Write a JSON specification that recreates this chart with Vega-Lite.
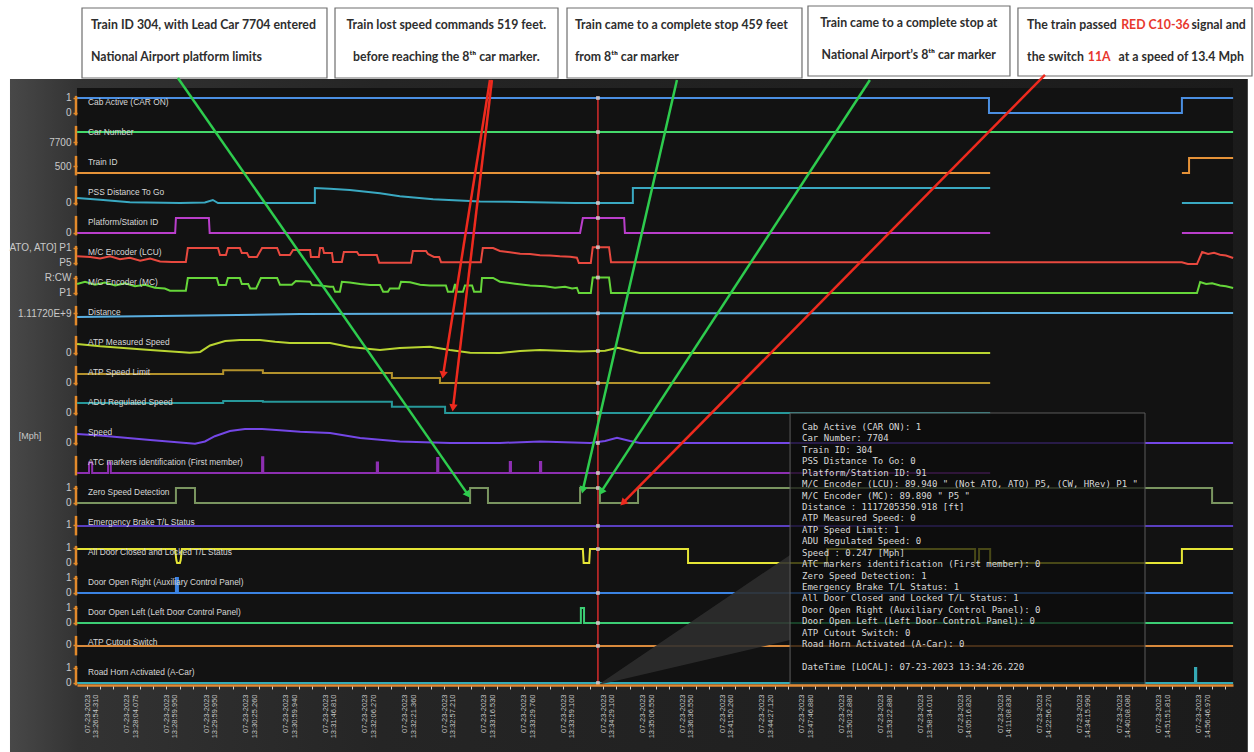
{
  "$schema": "https://vega.github.io/schema/vega-lite/v6.json",
  "width": 1156,
  "height": 597,
  "autosize": {"type": "none"},
  "padding": {"left": 77, "top": 88, "right": 21, "bottom": 67},
  "background": "#ffffff",
  "config": {"view": {"stroke": null}, "axis": {"labelOverlap": false, "zindex": 2}},
  "resolve": {"scale": {"color": "independent"}},
  "datasets": {
    "traces": [
      {"s":0,"g":0,"t":[-2.5,227.2,227.2,275.8,275.8,288.7],"v":[1,1,0,0,1,1]},
      {"s":1,"g":0,"t":[-2.5,288.7],"v":[0.73,0.73]},
      {"s":2,"g":0,"t":[-2.5,227.5],"v":[0,0]},
      {"s":2,"g":1,"t":[275.8,277.6,277.6,288.7],"v":[0,0,1,1]},
      {"s":3,"g":0,"t":[-2.5,3.3,10.8,23.4,29.7,31.7,33,57.4,57.4,61.2,66.2,73.8,78.8,87.2,99,109.1,122.9,137.5,137.5,227.5],"v":[0.33,0.22,0.05,0,0.03,0.2,0,0,1,0.95,0.87,0.65,0.45,0.25,0.1,0.07,0,0,1,1]},
      {"s":3,"g":1,"t":[275.8,288.7],"v":[0,0]},
      {"s":4,"g":0,"t":[-2.5,22.2,22.4,30.7,30.9,124.2,124.9,135.3,135.5,227.5],"v":[0,0,1,1,0,0,1,1,0,0]},
      {"s":4,"g":1,"t":[275.8,288.7],"v":[0,0]},
      {"s":5,"g":0,"t":[-2.5,0.8,3.3,5.8,8.3,10.8,13.4,15.9,18.4,21.4,24.9,25.4,33.0,33.5,35.0,35.5,38.5,39.0,40.3,40.8,42.8,44.1,47.9,48.6,51.1,51.9,53.7,56.2,56.4,58.4,58.7,59.4,59.7,61.7,62.0,64.2,64.7,68.0,68.5,73.0,73.6,81.6,82.1,85.4,85.9,87.4,88.7,89.2,99.2,99.7,102.3,104.0,106.5,109.1,111.6,114.1,116.6,119.1,121.7,123.4,123.9,126.9,127.4,131.5,132.0,275.8,277.3,279.6,280.9,282.4,283.9,285.4,286.9,288.7],"v":[0.45,0.4,0.3,0.45,0.25,0.35,0.15,0.3,0.1,0.07,0.07,1,1,0.53,0.53,1,1,0.67,0.67,0.4,0.4,1,1,0.53,0.53,0.87,0.87,0.87,0.4,0.4,1,1,0.67,0.67,0.07,0.07,0.73,0.73,0.53,0.53,0.02,0.02,0.8,0.8,0.6,0.4,0.4,0.05,0.05,1,1,0.8,0.72,0.62,0.6,0.52,0.5,0.45,0.42,0.35,0,0,1.05,1.05,0.05,0.05,-0.07,-0.07,0.73,0.6,0.68,0.55,0.5,0.33]},
      {"s":6,"g":0,"t":[-2.5,-0.5,2.0,4.5,7.1,9.6,12.1,14.6,17.1,19.6,20.9,24.9,25.4,32.7,33.2,35.0,35.5,38.5,39.0,40.6,41.1,42.6,43.8,47.9,48.6,51.6,52.6,56.2,56.7,58.7,61.2,62.0,62.5,63.7,64.2,66.2,68.8,71.3,73.8,74.6,75.8,76.3,78.6,79.1,81.4,83.9,86.4,90.4,90.9,92.2,92.7,93.2,94.7,95.2,97.0,97.5,99.2,99.5,102.3,104.0,107.8,111.6,115.4,117.9,120.4,122.2,123.4,123.9,126.9,127.4,131.5,132.0,279.6,280.4,281.9,283.4,285.4,286.9,288.7],"v":[0.6,0.75,0.55,0.7,0.5,0.65,0.45,0.55,0.35,0.3,0.15,0.15,1,1,0.53,0.53,1,1,0.6,0.6,0.3,0.3,1,1,0.55,0.55,0.8,0.75,0.53,0.5,0.42,0.42,0.08,0.08,0.75,0.7,0.6,0.53,0.53,0.08,0.08,0.3,0.3,0.75,0.72,0.55,0.5,0.5,0.08,0.08,0.6,0.08,0.08,0.5,0.5,0.08,0.08,1,1,0.75,0.62,0.5,0.45,0.35,0.42,0.3,0.35,0,0,1.03,1.03,0,0,0.73,0.6,0.65,0.5,0.45,0.33]},
      {"s":7,"g":0,"t":[-2.5,28.5,53.7,129.2,288.7],"v":[0.4,0.5,0.6,0.65,0.67]},
      {"s":8,"g":0,"t":[-2.5,3.3,15.9,25.9,28.5,31.0,34.8,38.5,43.6,47.4,51.1,61.2,66.2,73.8,78.8,86.4,91.4,96.5,104.0,109.1,114.1,124.2,130.5,133.7,136.8,139.3,227.5],"v":[0.6,0.45,0.2,0.02,0.07,0.5,0.8,0.87,0.87,0.75,0.67,0.67,0.4,0.2,0.33,0.42,0.2,0.02,0,0.13,0.2,0.1,0.15,0.35,0.15,0,0]},
      {"s":9,"g":0,"t":[-2.5,34.3,34.3,44.3,44.3,76.8,76.8,88.9,88.9,227.5],"v":[0.6,0.6,0.85,0.85,0.67,0.67,0.33,0.33,0,0]},
      {"s":10,"g":0,"t":[-2.5,34.3,34.3,44.3,44.3,76.8,76.8,90.2,90.2,227.5],"v":[0.67,0.67,0.8,0.8,0.75,0.75,0.42,0.42,0,0]},
      {"s":11,"g":0,"t":[-2.5,3.3,15.9,27.2,29.7,32.2,36.0,39.8,44.1,48.6,53.7,61.2,68.8,78.8,91.4,104.0,114.1,126.7,130.5,133.5,136.8,139.3,288.7],"v":[0.6,0.5,0.2,-0.05,0.1,0.45,0.8,0.93,0.93,0.85,0.75,0.67,0.33,0.1,0,0,0.1,0,0.13,0.35,0.13,0,0]},
      {"s":12,"g":0,"t":[-2.5,0.5,0.5,1.3,1.3,5.3,5.3,6.0,6.0,44.1,44.1,44.4,44.4,73.0,73.0,73.3,73.3,88.2,88.2,88.5,88.5,106.5,106.5,106.8,106.8,114.1,114.1,114.4,114.4,227.5],"v":[0,0,0.7,0.7,0,0,0.7,0.7,0,0,1.05,1.05,0,0,0.7,0.7,0,0,1,1,0,0,0.73,0.73,0,0,0.73,0.73,0,0]},
      {"s":13,"g":0,"t":[-2.5,22.4,22.4,27.2,27.2,96.5,96.5,101,101,124.2,124.2,129.2,129.2,138.8,138.8,283.4,283.4,288.7],"v":[0,0,1,1,0,0,1,1,0,0,1,1,0,0,1,1,0,0]},
      {"s":14,"g":0,"t":[-2.5,288.7],"v":[0.47,0.47]},
      {"s":15,"g":0,"t":[-2.5,22.2,22.5,22.7,23.4,23.6,23.9,124.9,125.1,126.5,126.7,151.4,151.4,186.4,186.4,223.7,223.7,224.7,224.7,227.5,227.5,275.8,275.8,288.7],"v":[0.93,0.93,0.2,0,0,0.2,0.93,0.93,0,0,0.93,0.93,0,0,0.93,0.93,0,0,0.93,0.93,0,0,0.93,0.93]},
      {"s":16,"g":0,"t":[-2.5,22.4,22.4,22.9,22.9,288.7],"v":[0,0,1,1,0,0]},
      {"s":17,"g":0,"t":[-2.5,124.4,124.4,125.2,125.2,288.7],"v":[0,0,1,1,0,0]},
      {"s":18,"g":0,"t":[-2.5,288.7],"v":[0.47,0.47]},
      {"s":19,"g":0,"t":[-2.5,279.1,279.1,279.4,279.4,288.7],"v":[0,0,1,1,0,0]}
    ],
    "lanes": [
      {"lane":0,"name":"Cab Active (CAR ON)"},
      {"lane":1,"name":"Car Number"},
      {"lane":2,"name":"Train ID"},
      {"lane":3,"name":"PSS Distance To Go"},
      {"lane":4,"name":"Platform/Station ID"},
      {"lane":5,"name":"M/C Encoder (LCU)"},
      {"lane":6,"name":"M/C Encoder (MC)"},
      {"lane":7,"name":"Distance"},
      {"lane":8,"name":"ATP Measured Speed"},
      {"lane":9,"name":"ATP Speed Limit"},
      {"lane":10,"name":"ADU Regulated Speed"},
      {"lane":11,"name":"Speed"},
      {"lane":12,"name":"ATC markers identification (First member)"},
      {"lane":13,"name":"Zero Speed Detection"},
      {"lane":14,"name":"Emergency Brake T/L Status"},
      {"lane":15,"name":"All Door Closed and Locked T/L Status"},
      {"lane":16,"name":"Door Open Right (Auxiliary Control Panel)"},
      {"lane":17,"name":"Door Open Left (Left Door Control Panel)"},
      {"lane":18,"name":"ATP Cutout Switch"},
      {"lane":19,"name":"Road Horn Activated (A-Car)"}
    ],
    "cursor": [
      {"s":0,"v":1},{"s":1,"v":0.73},{"s":2,"v":0},{"s":3,"v":0},{"s":4,"v":1},
      {"s":5,"v":1.05},{"s":6,"v":1.03},{"s":7,"v":0.65},{"s":8,"v":0.13},{"s":9,"v":0},
      {"s":10,"v":0},{"s":11,"v":0},{"s":12,"v":0},{"s":13,"v":1},{"s":14,"v":0.47},
      {"s":15,"v":0.93},{"s":16,"v":0},{"s":17,"v":0},{"s":18,"v":0.47},{"s":19,"v":0}
    ],
    "notes": [
      {"x":-1.26,"x2":60.45,"y":3.5,"y2":1.167},
      {"x":62.47,"x2":118.64,"y":3.5,"y2":1.167},
      {"x":120.91,"x2":180.1,"y":3.5,"y2":1.167},
      {"x":181.61,"x2":232.49,"y":3.567,"y2":1.233},
      {"x":234.5,"x2":293.45,"y":3.5,"y2":1.233}
    ],
    "noteLeft": [
      {"x":1.0,"y":2.933,"text":"Train ID 304, with Lead Car 7704 entered"},
      {"x":1.0,"y":1.867,"text":"National Airport platform limits"},
      {"x":122.9,"y":2.933,"text":"Train came to a complete stop 459 feet"},
      {"x":122.9,"y":1.867,"text":"from 8ᵗʰ car marker"},
      {"x":236.8,"y":2.933,"text":"The train passed"},
      {"x":236.8,"y":1.867,"text":"the switch"}
    ],
    "noteCenter": [
      {"x":90.5,"y":2.933,"text":"Train lost speed commands 519 feet."},
      {"x":90.5,"y":1.867,"text":"before reaching the 8ᵗʰ car marker."},
      {"x":207,"y":3.0,"text":"Train came to a complete stop at"},
      {"x":207,"y":1.933,"text":"National Airport’s 8ᵗʰ car marker"}
    ],
    "noteRed": [
      {"x":260.5,"y":2.933,"text":"RED C10-36"},
      {"x":252.1,"y":1.867,"text":"11A"}
    ],
    "noteRight": [
      {"x":291.9,"y":2.933,"text":"signal and"},
      {"x":291.4,"y":1.867,"text":"at a speed of 13.4 Mph"}
    ],
    "arrows": [
      {"x":22.9,"y":1.167,"x2":96.0,"y2":-12.73,"tone":"ok"},
      {"x":101.5,"y":1.1,"x2":89.7,"y2":-8.73,"tone":"alert"},
      {"x":102.0,"y":1.1,"x2":92.2,"y2":-9.83,"tone":"alert"},
      {"x":148.6,"y":1.1,"x2":124.9,"y2":-12.57,"tone":"ok"},
      {"x":197.2,"y":1.1,"x2":129.5,"y2":-12.63,"tone":"ok"},
      {"x":241.3,"y":1.27,"x2":135.0,"y2":-13.0,"tone":"alert"}
    ],
    "callout": [
      {"t":128.7,"lo":-19.067,"hi":-19.067},
      {"t":177.1,"lo":-17.57,"hi":-14.73}
    ],
    "readout": [
      {"lines":["Cab Active (CAR ON): 1","Car Number: 7704","Train ID: 304","PSS Distance To Go: 0","Platform/Station ID: 91","M/C Encoder (LCU): 89.940  \" (Not ATO, ATO) P5, (CW, HRev) P1 \"","M/C Encoder (MC): 89.890  \" P5 \"","Distance : 1117205350.918 [ft]","ATP Measured Speed: 0","ATP Speed Limit: 1","ADU Regulated Speed: 0","Speed : 0.247 [Mph]","ATC markers identification (First member): 0","Zero Speed Detection: 1","Emergency Brake T/L Status: 1","All Door Closed and Locked T/L Status: 1","Door Open Right (Auxiliary Control Panel): 0","Door Open Left (Left Door Control Panel): 0","ATP Cutout Switch: 0","Road Horn Activated (A-Car): 0"],"stamp":"DateTime [LOCAL]: 07-23-2023 13:34:26.220"}
    ]
  },
  "layer": [
    {
      "data": {"values": [{}]},
      "mark": {"type": "rect", "fill": {"gradient": "linear", "x1": 0, "y1": 0, "x2": 1, "y2": 0, "stops": [{"offset": 0, "color": "#484848"}, {"offset": 0.055, "color": "#333333"}, {"offset": 0.3, "color": "#252525"}, {"offset": 1, "color": "#1b1b1b"}]}},
      "encoding": {
        "x": {
          "datum": -19.4, "type": "quantitative",
          "scale": {"domain": [-2.52, 288.67], "nice": false, "zero": false},
          "axis": {
            "title": null,
            "zindex": 2,
            "tickCount": 1000,
            "values": [0,3.333,6.667,10,13.333,16.667,20,23.333,26.667,30,33.333,36.667,40,43.333,46.667,50,53.333,56.667,60,63.333,66.667,70,73.333,76.667,80,83.333,86.667,90,93.333,96.667,100,103.333,106.667,110,113.333,116.667,120,123.333,126.667,130,133.333,136.667,140,143.333,146.667,150,153.333,156.667,160,163.333,166.667,170,173.333,176.667,180,183.333,186.667,190,193.333,196.667,200,203.333,206.667,210,213.333,216.667,220,223.333,226.667,230,233.333,236.667,240,243.333,246.667,250,253.333,256.667,260,263.333,266.667,270,273.333,276.667,280,283.333,286.667],
            "labelExpr": "abs(datum.value / 10 - round(datum.value / 10)) < 0.01 ? ['07-23-2023', ['13:26:54.310','13:28:04.075','13:28:59.950','13:29:59.950','13:30:25.260','13:30:59.940','13:31:46.810','13:32:06.270','13:32:21.360','13:32:57.210','13:33:16.530','13:33:29.760','13:33:59.100','13:34:29.100','13:35:06.550','13:36:36.550','13:41:50.260','13:44:27.120','13:47:46.880','13:50:32.880','13:53:22.880','13:58:34.010','14:05:16.820','14:11:08.830','14:22:56.270','14:34:15.990','14:40:08.080','14:51:51.810','14:56:46.970'][round(datum.value / 10)]] : ''",
            "labelAngle": 270,
            "labelFont": "Liberation Sans",
            "labelFontSize": 7.5,
            "labelLineHeight": 8.5,
            "labelColor": "#c4c4c4",
            "labelPadding": 5,
            "labelOverlap": false,
            "labelFlush": false,
            "labelSeparation": 0,
            "tickColor": "#cfcfcf",
            "tickSize": 4,
            "tickWidth": 1,
            "domainColor": "#e08a34",
            "domainWidth": 2.5,
            "grid": false
          }
        },
        "x2": {"datum": 292.4},
        "y": {
          "datum": 1.133, "type": "quantitative",
          "scale": {"domain": [-19.067, 0.833], "nice": false, "zero": false},
          "axis": {
            "title": null,
            "zindex": 2,
            "tickCount": 1000,
            "values": [0.5,0,-0.967,-1.767,-3,-4,-4.5,-5,-5.5,-6,-6.667,-8,-9,-10,-11,-12.5,-13,-13.733,-14.5,-15,-15.5,-16,-16.5,-17,-17.733,-18.5,-19],
            "labelExpr": "['1','0','7700','500','0','0','ATO, ATO] P1','P5','R:CW','P1','1.11720E+9','0','0','0','0','1','0','1','1','0','1','0','1','0','0','1','0'][indexof([0.5,0,-0.967,-1.767,-3,-4,-4.5,-5,-5.5,-6,-6.667,-8,-9,-10,-11,-12.5,-13,-13.733,-14.5,-15,-15.5,-16,-16.5,-17,-17.733,-18.5,-19], datum.value)]",
            "labelFont": "Liberation Sans",
            "labelFontSize": 10,
            "labelColor": "#c9c9c9",
            "labelPadding": 2,
            "labelOverlap": false,
            "labelFlush": false,
            "labelSeparation": 0,
            "tickColor": "#e38a2b",
            "tickSize": 4,
            "tickWidth": 1.5,
            "domain": false,
            "grid": false
          }
        },
        "y2": {"datum": -21.3}
      }
    },
    {
      "data": {"values": [{}]},
      "mark": {"type": "rect", "fill": "#121212"},
      "encoding": {
        "x": {"datum": -2.52, "type": "quantitative"},
        "x2": {"datum": 288.67},
        "y": {"datum": 0.833, "type": "quantitative"},
        "y2": {"datum": -19.067}
      }
    },
    {
      "data": {"name": "notes"},
      "mark": {"type": "rect", "fill": "#ffffff", "stroke": "#6e6e6e", "strokeWidth": 1.2},
      "encoding": {
        "x": {"field": "x", "type": "quantitative", "title": null},
        "x2": {"field": "x2"},
        "y": {"field": "y", "type": "quantitative", "title": null},
        "y2": {"field": "y2"}
      }
    },
    {
      "data": {"name": "noteLeft"},
      "mark": {"type": "text", "align": "left", "baseline": "middle", "font": "Lato", "fontWeight": "bold", "fontSize": 12.3, "color": "#2e2e2e"},
      "encoding": {
        "x": {"field": "x", "type": "quantitative", "title": null},
        "y": {"field": "y", "type": "quantitative", "title": null},
        "text": {"field": "text"}
      }
    },
    {
      "data": {"name": "noteCenter"},
      "mark": {"type": "text", "align": "center", "baseline": "middle", "font": "Lato", "fontWeight": "bold", "fontSize": 12.3, "color": "#2e2e2e"},
      "encoding": {
        "x": {"field": "x", "type": "quantitative", "title": null},
        "y": {"field": "y", "type": "quantitative", "title": null},
        "text": {"field": "text"}
      }
    },
    {
      "data": {"name": "noteRed"},
      "mark": {"type": "text", "align": "left", "baseline": "middle", "font": "Lato", "fontWeight": "bold", "fontSize": 12.3, "color": "#e8372d"},
      "encoding": {
        "x": {"field": "x", "type": "quantitative", "title": null},
        "y": {"field": "y", "type": "quantitative", "title": null},
        "text": {"field": "text"}
      }
    },
    {
      "data": {"name": "noteRight"},
      "mark": {"type": "text", "align": "right", "baseline": "middle", "font": "Lato", "fontWeight": "bold", "fontSize": 12.3, "color": "#2e2e2e"},
      "encoding": {
        "x": {"field": "x", "type": "quantitative", "title": null},
        "y": {"field": "y", "type": "quantitative", "title": null},
        "text": {"field": "text"}
      }
    },
    {
      "data": {"name": "lanes"},
      "transform": [
        {"calculate": "-datum.lane + 0.57", "as": "top"},
        {"calculate": "-datum.lane - 0.08", "as": "bottom"}
      ],
      "mark": {"type": "rule", "color": "#e38a2b", "strokeWidth": 2.5},
      "encoding": {
        "x": {"datum": -2.77, "type": "quantitative"},
        "y": {"field": "top", "type": "quantitative", "title": null},
        "y2": {"field": "bottom"}
      }
    },
    {
      "data": {"name": "traces"},
      "transform": [
        {"flatten": ["t", "v"]},
        {"calculate": "datum.v * 0.5 - datum.s", "as": "y"},
        {"calculate": "datum.s + '-' + datum.g", "as": "key"}
      ],
      "mark": {"type": "line", "strokeWidth": 2, "interpolate": "linear"},
      "encoding": {
        "x": {"field": "t", "type": "quantitative", "title": null},
        "y": {"field": "y", "type": "quantitative", "title": null},
        "detail": {"field": "key"},
        "color": {
          "field": "s", "type": "nominal", "legend": null,
          "scale": {
            "domain": [0,1,2,3,4,5,6,7,8,9,10,11,12,13,14,15,16,17,18,19],
            "range": ["#4b8fe2","#45d96b","#e59238","#3aa9c2","#b93ecb","#e8493f","#66d63a","#5aaee0","#b9d531","#b3922c","#27989a","#7447e6","#8d2fb1","#7a9560","#5a3fc0","#e5e536","#3b83e2","#3ccd74","#d98a3c","#35a9b5"]
          }
        }
      }
    },
    {
      "data": {"name": "lanes"},
      "transform": [{"calculate": "-datum.lane", "as": "base"}],
      "mark": {"type": "text", "align": "left", "baseline": "middle", "dy": -11, "font": "Liberation Sans", "fontSize": 8.4, "color": "#d8d8d8"},
      "encoding": {
        "x": {"datum": 0.25, "type": "quantitative"},
        "y": {"field": "base", "type": "quantitative", "title": null},
        "text": {"field": "name"}
      }
    },
    {
      "data": {"values": [{}]},
      "mark": {"type": "text", "align": "center", "baseline": "middle", "font": "Liberation Sans", "fontSize": 9, "color": "#c9c9c9"},
      "encoding": {
        "x": {"datum": -14.36, "type": "quantitative"},
        "y": {"datum": -10.77, "type": "quantitative"},
        "text": {"value": "[Mph]"}
      }
    },
    {
      "data": {"name": "callout"},
      "mark": {"type": "area", "fill": "#2e2e2e", "fillOpacity": 0.9},
      "encoding": {
        "x": {"field": "t", "type": "quantitative", "title": null},
        "y": {"field": "hi", "type": "quantitative", "title": null},
        "y2": {"field": "lo"}
      }
    },
    {
      "data": {"values": [{}]},
      "mark": {"type": "rule", "color": "#d62c2c", "strokeWidth": 1.5},
      "encoding": {
        "x": {"datum": 128.7, "type": "quantitative"},
        "y": {"datum": 0.55, "type": "quantitative"},
        "y2": {"datum": -19.067}
      }
    },
    {
      "data": {"name": "cursor"},
      "transform": [{"calculate": "datum.v * 0.5 - datum.s", "as": "y"}],
      "mark": {"type": "point", "shape": "square", "size": 14, "filled": true, "color": "#cfcfcf", "opacity": 0.85},
      "encoding": {
        "x": {"datum": 128.7, "type": "quantitative"},
        "y": {"field": "y", "type": "quantitative", "title": null}
      }
    },
    {
      "data": {"values": [{}]},
      "mark": {"type": "rect", "fill": "#0b0b0b", "fillOpacity": 0.72, "stroke": "#5c5c5c", "strokeWidth": 1},
      "encoding": {
        "x": {"datum": 177.1, "type": "quantitative"},
        "x2": {"datum": 266.5},
        "y": {"datum": -10, "type": "quantitative"},
        "y2": {"datum": -19.067}
      }
    },
    {
      "data": {"name": "readout"},
      "mark": {"type": "text", "align": "left", "baseline": "top", "font": "DejaVu Sans Mono", "fontSize": 9, "lineHeight": 11.43, "color": "#d8d8d8"},
      "encoding": {
        "x": {"datum": 180.1, "type": "quantitative"},
        "y": {"datum": -10.333, "type": "quantitative"},
        "text": {"field": "lines"}
      }
    },
    {
      "data": {"name": "readout"},
      "mark": {"type": "text", "align": "left", "baseline": "top", "font": "DejaVu Sans Mono", "fontSize": 9, "color": "#d8d8d8"},
      "encoding": {
        "x": {"datum": 180.1, "type": "quantitative"},
        "y": {"datum": -18.334, "type": "quantitative"},
        "text": {"field": "stamp"}
      }
    },
    {
      "data": {"name": "arrows"},
      "transform": [{"calculate": "atan2((datum.x2 - datum.x) * 3.97, (datum.y2 - datum.y) * 30) * 180 / PI", "as": "ang"}],
      "layer": [
        {
          "mark": {"type": "rule", "strokeWidth": 2.5},
          "encoding": {
            "x": {"field": "x", "type": "quantitative", "title": null},
            "y": {"field": "y", "type": "quantitative", "title": null},
            "x2": {"field": "x2"},
            "y2": {"field": "y2"},
            "color": {"field": "tone", "type": "nominal", "legend": null, "scale": {"domain": ["ok", "alert"], "range": ["#2ecc4e", "#ee2a1e"]}}
          }
        },
        {
          "mark": {"type": "point", "shape": "triangle-up", "filled": true, "size": 70, "opacity": 1},
          "encoding": {
            "x": {"field": "x2", "type": "quantitative", "title": null},
            "y": {"field": "y2", "type": "quantitative", "title": null},
            "angle": {"field": "ang", "type": "quantitative", "scale": null},
            "color": {"field": "tone", "type": "nominal", "legend": null, "scale": {"domain": ["ok", "alert"], "range": ["#2ecc4e", "#ee2a1e"]}}
          }
        }
      ]
    }
  ]
}
